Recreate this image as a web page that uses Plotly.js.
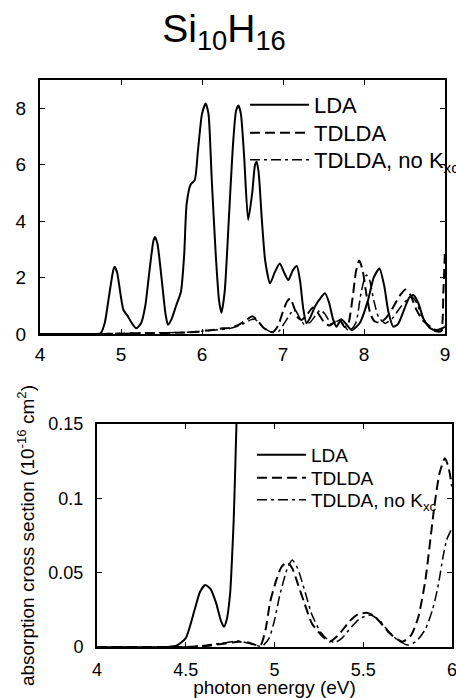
<!DOCTYPE html>
<html>
<head>
<meta charset="utf-8">
<script src="https://cdn.plot.ly/plotly-3.0.1.min.js"></script>
<style>html,body{margin:0;padding:0;background:#fff;overflow:hidden;}#chart{width:470px;height:698px;}</style>
</head>
<body>
<div id="chart"></div>
<script>
// ---- Top panel (4–9 eV) ----
var topLdaE = [4.0,4.5,4.7,4.75,4.8,4.85,4.9,4.92,4.95,5.0,5.03,5.08,5.13,5.19,5.25,5.3,5.35,5.4,5.42,5.45,5.5,5.55,5.58,5.62,5.68,5.74,5.78,5.81,5.86,5.91,5.95,6.0,6.045,6.08,6.12,6.17,6.21,6.24,6.28,6.33,6.38,6.42,6.45,6.48,6.52,6.57,6.62,6.655,6.675,6.7,6.74,6.78,6.84,6.9,6.96,7.01,7.065,7.12,7.17,7.21,7.25,7.29,7.33,7.4,7.47,7.52,7.57,7.62,7.66,7.72,7.78,7.85,7.95,8.05,8.12,8.19,8.25,8.3,8.36,8.42,8.5,8.56,8.61,8.67,8.74,8.82,8.9,8.96,9.0];
var topLdaV = [0,0,0,0.03,0.4,1.3,2.2,2.38,2.2,1.3,0.85,0.65,0.4,0.2,0.4,1.0,2.2,3.3,3.44,3.2,2.0,0.7,0.33,0.5,1.0,1.5,2.8,4.6,5.3,5.45,6.5,7.8,8.17,7.8,5.5,2.8,1.2,0.75,1.5,4.0,6.6,7.9,8.1,7.8,6.3,4.04,5.0,6.0,6.1,5.7,4.0,2.6,1.79,2.2,2.5,2.2,1.91,2.25,2.41,1.9,0.9,0.38,0.55,1.0,1.3,1.44,1.1,0.5,0.26,0.52,0.35,0.14,0.4,1.2,2.0,2.32,1.7,0.8,0.26,0.35,0.9,1.3,1.38,1.1,0.5,0.2,0.14,0.2,0.25];

var topTdE = [4.0,4.8,5.0,5.4,5.8,5.95,6.05,6.15,6.25,6.35,6.45,6.55,6.62,6.68,6.75,6.82,6.88,6.94,7.0,7.05,7.09,7.13,7.18,7.23,7.3,7.37,7.43,7.5,7.57,7.65,7.7,7.76,7.8,7.86,7.9,7.94,7.98,8.03,8.08,8.13,8.2,8.28,8.36,8.44,8.51,8.57,8.64,8.72,8.8,8.88,8.95,8.98,9.0];
var topTdV = [0,0,0.02,0.03,0.05,0.08,0.12,0.15,0.2,0.22,0.32,0.5,0.63,0.5,0.25,0.1,0.08,0.3,0.8,1.15,1.26,1.0,0.6,0.5,0.7,0.94,0.75,0.45,0.3,0.45,0.5,0.25,0.3,1.3,2.2,2.6,2.3,1.4,0.7,0.45,0.4,0.6,0.95,1.35,1.58,1.4,0.9,0.5,0.3,0.1,0.1,1.5,3.0];

var topNoKE = [4.0,4.8,5.2,5.8,6.0,6.2,6.35,6.5,6.6,6.65,6.72,6.8,6.88,6.95,7.02,7.1,7.15,7.2,7.26,7.33,7.4,7.46,7.52,7.6,7.7,7.75,7.82,7.9,7.96,8.0,8.03,8.07,8.12,8.18,8.26,8.35,8.45,8.53,8.59,8.65,8.72,8.8,8.88,8.95,9.0];
var topNoKV = [0,0.01,0.03,0.06,0.1,0.15,0.2,0.35,0.5,0.53,0.35,0.15,0.05,0.1,0.4,0.75,0.85,0.6,0.35,0.4,0.65,0.85,0.7,0.35,0.5,0.3,0.1,0.4,1.4,1.9,2.09,1.9,1.2,0.6,0.38,0.55,0.95,1.2,1.32,1.1,0.6,0.3,0.15,0.1,0.3];

// ---- Bottom panel (4–6 eV) ----
var botLdaE = [4.0,4.4,4.45,4.5,4.55,4.58,4.61,4.64,4.67,4.7,4.715,4.73,4.75,4.76,4.77,4.78,4.79,4.8];
var botLdaV = [0,0,0.001,0.006,0.025,0.037,0.0417,0.039,0.03,0.017,0.0137,0.018,0.036,0.058,0.085,0.125,0.17,0.22];

var botTdE = [4.0,4.5,4.6,4.7,4.8,4.85,4.92,4.95,4.975,5.01,5.04,5.07,5.1,5.13,5.17,5.21,5.256,5.31,5.36,5.42,5.47,5.52,5.56,5.6,5.65,5.72,5.77,5.81,5.85,5.9,5.93,5.96,5.98,6.0];
var botTdV = [0,0,0.0005,0.002,0.0035,0.003,0.001,0.012,0.03,0.045,0.054,0.057,0.053,0.043,0.029,0.016,0.009,0.0036,0.008,0.017,0.022,0.023,0.021,0.016,0.009,0.0036,0.008,0.02,0.045,0.094,0.117,0.127,0.121,0.108];

var botNoKE = [4.0,4.5,4.6,4.7,4.8,4.87,4.93,4.97,5.0,5.03,5.07,5.1,5.13,5.17,5.21,5.26,5.3,5.34,5.38,5.43,5.48,5.54,5.59,5.64,5.69,5.75,5.8,5.85,5.89,5.92,5.95,5.97,6.0];
var botNoKV = [0,0,0.001,0.0025,0.004,0.002,0.0005,0.006,0.018,0.035,0.052,0.0585,0.053,0.038,0.022,0.01,0.005,0.003,0.006,0.013,0.019,0.0215,0.018,0.011,0.005,0.0013,0.004,0.012,0.025,0.04,0.061,0.072,0.08];

var names = ['LDA', 'TDLDA', 'TDLDA, no K<sub>xc</sub>'];
var topXTicks = [4,5,6,7,8,9];
var topYTicks = [0,2,4,6,8];
var botXTicks = [4,4.5,5,5.5,6];
var botXText = ['4','4.5','5','5.5','6'];
var botYTicks = [0,0.05,0.1,0.15];
var botYText = ['0','0.05','0.1','0.15'];

var FONT = 'Liberation Sans, Arial, Helvetica, sans-serif';
var solid = {color:'#000', width:2, dash:'solid', shape:'spline', smoothing:0.6};
var dashed = {color:'#000', width:2, dash:'10px,5px', shape:'spline', smoothing:0.6};
var dashdot = {color:'#000', width:1.5, dash:'10px,4px,3px,4px', shape:'spline', smoothing:0.6};

var traces = [
  {x: topLdaE, y: topLdaV, name: names[0], mode:'lines', line: solid, xaxis:'x', yaxis:'y', legend:'legend'},
  {x: topTdE, y: topTdV, name: names[1], mode:'lines', line: dashed, xaxis:'x', yaxis:'y', legend:'legend2'},
  {x: topNoKE, y: topNoKV, name: names[2], mode:'lines', line: dashdot, xaxis:'x', yaxis:'y', legend:'legend3'},
  {x: botLdaE, y: botLdaV, name: names[0], mode:'lines', line: solid, xaxis:'x2', yaxis:'y2', legend:'legend4'},
  {x: botTdE, y: botTdV, name: names[1], mode:'lines', line: dashed, xaxis:'x2', yaxis:'y2', legend:'legend5'},
  {x: botNoKE, y: botNoKV, name: names[2], mode:'lines', line: dashdot, xaxis:'x2', yaxis:'y2', legend:'legend6'}
];

var W = 470, H = 698;
function px(x){return x/W;}
function py(y){return 1 - y/H;}

var axBase = {showline:true, linecolor:'#000', linewidth:2, mirror:'ticks', ticks:'inside', ticklen:5, tickwidth:1, tickcolor:'#000', showgrid:false, zeroline:false, tickfont:{family:FONT, size:19, color:'#000'}};

function leg(xp, yp, size, iw){
  return {x: px(xp), y: py(yp), xanchor:'left', yanchor:'middle', itemwidth: iw, bgcolor:'rgba(0,0,0,0)', borderwidth:0, font:{family:FONT, size:size, color:'#000'}};
}

var layout = {
  width: W, height: H,
  margin: {l:0, r:0, t:0, b:0},
  paper_bgcolor:'#fff', plot_bgcolor:'#fff',
  font: {family: FONT, color:'#000'},
  showlegend: true,
  title: {text:'Si<sub>10</sub>H<sub>16</sub>', font:{family:FONT, size:39, color:'#000'}, x: px(224), xref:'container', xanchor:'center', y: py(28), yref:'container', yanchor:'middle'},
  xaxis: Object.assign({}, axBase, {domain:[px(40), px(445)], range:[4,9], anchor:'y', tickvals: topXTicks, ticktext: topXTicks.map(String), ticklabelstandoff: 2}),
  yaxis: Object.assign({}, axBase, {domain:[py(334), py(80)], range:[0,9], anchor:'x', tickvals: topYTicks, ticktext: topYTicks.map(String), ticklabelstandoff: 8}),
  xaxis2: Object.assign({}, axBase, {domain:[px(97), px(452)], range:[4,6], anchor:'y2', tickvals: botXTicks, ticktext: botXText, tickfont:{family:FONT, size:18, color:'#000'}, ticklabelstandoff: 5,
    title:{text:'photon energy (eV)', font:{family:FONT, size:19, color:'#000'}, standoff: 7}}),
  yaxis2: Object.assign({}, axBase, {domain:[py(647), py(424)], range:[0,0.15], anchor:'x2', tickvals: botYTicks, ticktext: botYText, tickfont:{family:FONT, size:18, color:'#000'}, ticklabelstandoff: 8,
    title:{text:'absorption cross section (10<sup>-16</sup> cm<sup>2</sup>)', font:{family:FONT, size:19, color:'#000'}, standoff: 9}}),
  legend:  leg(245, 105, 22, 59),
  legend2: leg(245, 133, 22, 59),
  legend3: leg(245, 160, 22, 59),
  legend4: leg(252, 455, 19, 49),
  legend5: leg(252, 478, 19, 49),
  legend6: leg(252, 500, 19, 49)
};

Plotly.newPlot('chart', traces, layout, {displayModeBar:false, staticPlot:true});
</script>
</body>
</html>
